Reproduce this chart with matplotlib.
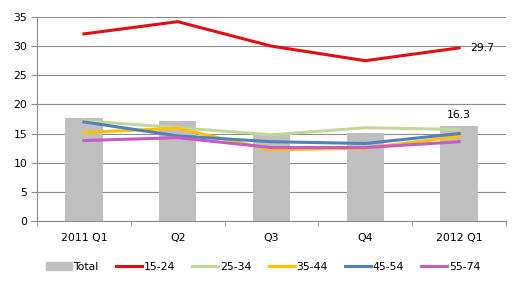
import matplotlib
matplotlib.use('Agg')
import matplotlib.pyplot as plt
import numpy as np
from matplotlib.patches import Patch
from matplotlib.lines import Line2D

quarters = ['2011 Q1', 'Q2', 'Q3', 'Q4', '2012 Q1']
total = [17.7, 17.2, 15.0, 15.1, 16.3]
age_15_24 = [32.1, 34.2, 30.0, 27.5, 29.7]
age_25_34 = [17.2, 16.0, 14.8, 16.0, 15.7]
age_35_44 = [15.2, 15.9, 12.2, 12.5, 14.5]
age_45_54 = [17.0, 14.6, 13.6, 13.3, 15.0]
age_55_74 = [13.8, 14.3, 12.6, 12.6, 13.6]

series = [('15-24', age_15_24, '#E01010'),
          ('25-34', age_25_34, '#C4D79B'),
          ('35-44', age_35_44, '#FFC000'),
          ('45-54', age_45_54, '#4F81BD'),
          ('55-74', age_55_74, '#C65BC6')]

plt.rcParams['font.family'] = 'DejaVu Sans'
fs = 7.8
fig = plt.figure(figsize=(5.26, 2.89), dpi=100)
ax = fig.add_axes([37/526, 1 - 221/289, 469/526, 204/289])

x = np.arange(len(quarters))
ax.bar(x, total, width=0.4, color='#BFBFBF', zorder=2)
for name, vals, col in series:
    ax.plot(x, vals, color=col, linewidth=2.2, zorder=3)

ax.text(x[-1], total[-1] + 1.0, f'{total[-1]}', ha='center', va='bottom', fontsize=fs)
ax.text(x[-1] + 0.12, age_15_24[-1], f'{age_15_24[-1]}', ha='left', va='center', fontsize=fs)

ax.set_xlim(-0.5, 4.5)
ax.set_ylim(0, 35)
ax.set_yticks(range(0, 36, 5))
ax.yaxis.grid(True, color='#8C8C8C', linewidth=0.8, zorder=0)
ax.set_axisbelow(True)
ax.set_xticks(x)
ax.set_xticklabels(quarters, fontsize=fs)
ax.set_xticks(np.arange(-0.5, 5, 1), minor=True)
ax.tick_params(axis='x', which='major', length=0, pad=9)
ax.tick_params(axis='x', which='minor', length=3.5, color='#8C8C8C', direction='out')
ax.tick_params(axis='y', labelsize=fs, length=4, color='#8C8C8C', pad=3)
for s in ['top', 'right']:
    ax.spines[s].set_visible(False)
for s in ['left', 'bottom']:
    ax.spines[s].set_color('#8C8C8C')

handles = [Patch(color='#BFBFBF', label='Total')]
handles += [Line2D([0], [0], color=c, linewidth=2.2, label=n) for n, _, c in series]
fig.legend(handles=handles, loc='center', bbox_to_anchor=(0.5, 1 - 267/289), ncol=6,
           frameon=False, fontsize=fs, handlelength=2.4, handletextpad=0.15, columnspacing=1.6)

fig.savefig('out.png', dpi=100)
